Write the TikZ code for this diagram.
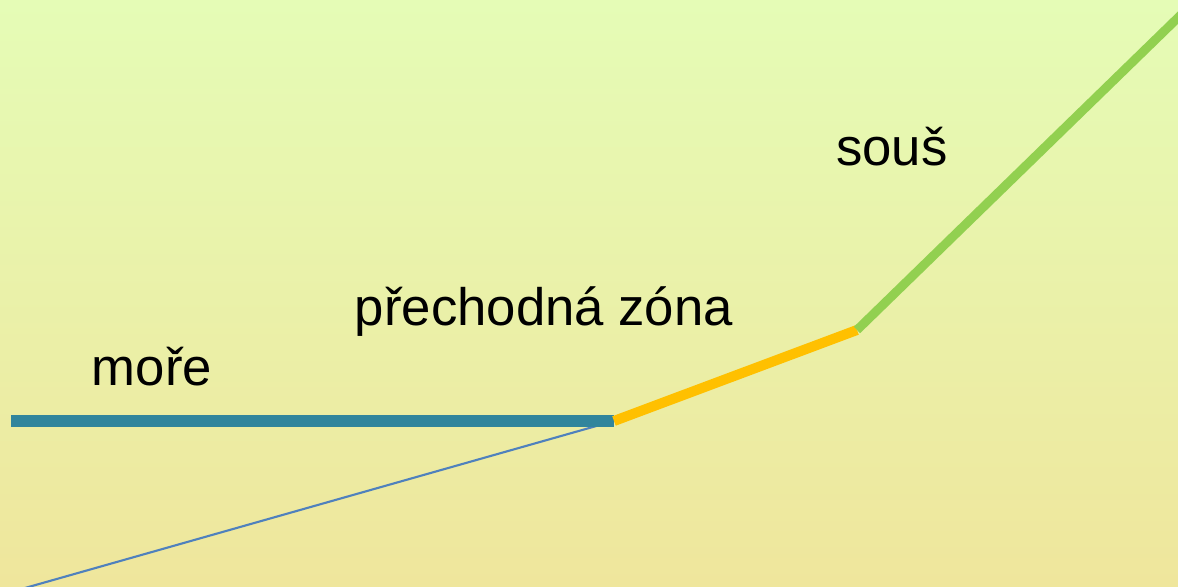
\documentclass[tikz,border=0pt]{standalone}
\usepackage{fontspec}
\setmainfont{Liberation Sans}
\usepackage{tikz}
\definecolor{seablue}{RGB}{49,133,156}
\definecolor{zoneorange}{RGB}{255,192,0}
\definecolor{landgreen}{RGB}{146,208,80}
\definecolor{floorblue}{RGB}{79,129,189}
\definecolor{bgtop}{RGB}{229,252,182}
\definecolor{bgbottom}{RGB}{239,230,156}

\begin{document}
\begin{tikzpicture}[x=0.02cm, y=-0.02cm, font=\fontsize{30}{36}\selectfont,
  zonetext/.style={anchor=base, inner sep=0pt}]
% Background
\fill[top color=bgtop, bottom color=bgbottom] (0,0) rectangle (1178,587);
\useasboundingbox (0,0) rectangle (1178,587);
\clip (0,0) rectangle (1178,587);

% Profile points
\coordinate (seaend) at (11,421);
\coordinate (shore) at (614,421);
\coordinate (zonetop) at (857,330);
\coordinate (landtop) at (1190,6);
\coordinate (floor) at (25,588);

% Profile
\draw[floorblue, line width=1.2pt] (floor) -- (shore);
\draw[seablue, line width=6.8pt] (seaend) -- (shore);
\draw[zoneorange, line width=5.7pt] (shore) -- (zonetop);
\draw[landgreen, line width=5.1pt] (zonetop) -- (landtop);

% Labels
\node[zonetext] (more) at (152,386) {moře};
\node[zonetext] (zona) at (544,326) {přechodná zóna};
\node[zonetext] (sous) at (892,166) {souš};

\end{tikzpicture}
\end{document}
